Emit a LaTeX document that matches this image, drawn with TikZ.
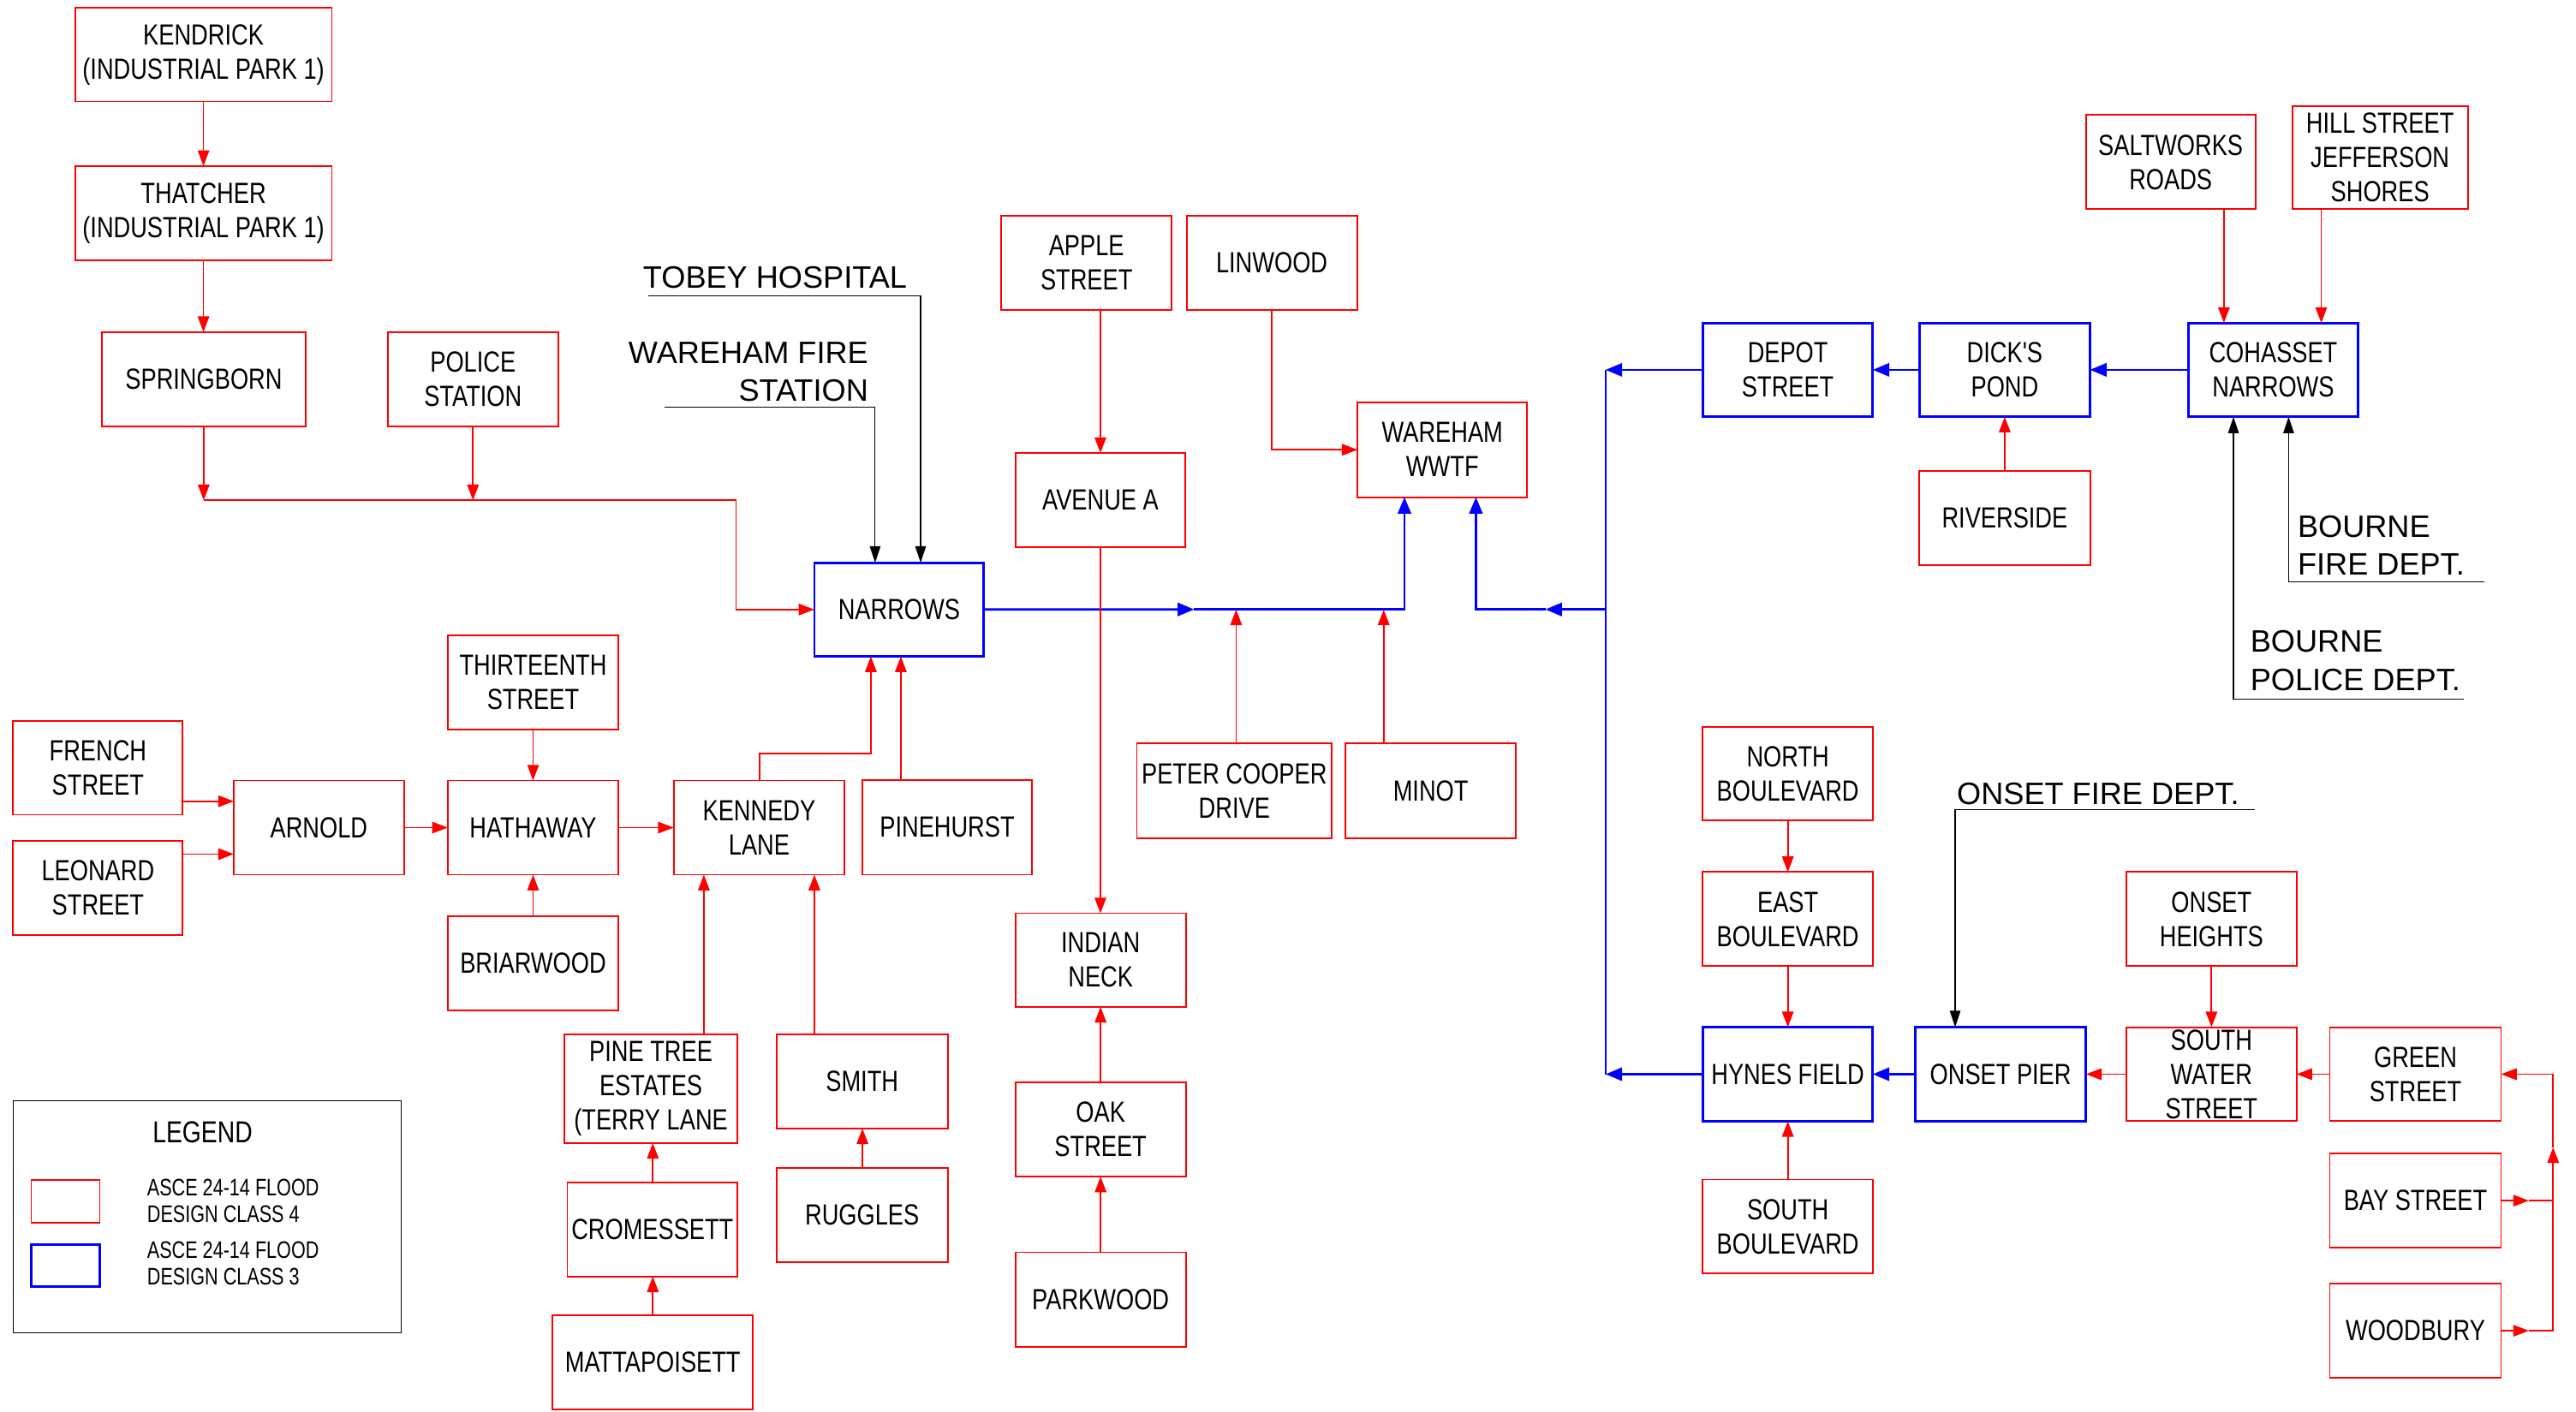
\documentclass[tikz,border=0pt]{standalone}
\usepackage{fontspec}
\setmainfont{Liberation Sans}
\newfontfamily\nf[FakeStretch=0.8,Ligatures=TeXOff]{Liberation Sans}
\newfontfamily\nnf[FakeStretch=0.775,Ligatures=TeXOff]{Liberation Sans}
\usetikzlibrary{arrows.meta}
\definecolor{rd}{RGB}{255,0,0}
\definecolor{bl}{RGB}{0,0,255}
\newcommand\mls[1]{\vbox{\let\\\cr\halign{\hfil##\hfil\cr#1\crcr}}}
\newcommand\mll[1]{\vbox{\let\\\cr\halign{##\hfil\cr#1\crcr}}}
\newcommand\mlr[1]{\vbox{\let\\\cr\halign{\hfil##\cr#1\crcr}}}
\tikzset{
 boxbase/.style={inner sep=0pt, outer sep=0pt, text=black, font=\nf\fontsize{17.7}{20.8}\selectfont},
 rbox/.style={boxbase, draw=rd, line width=1pt},
 bbox/.style={boxbase, draw=bl, line width=1.5pt},
 rseg/.style={draw=rd, line width=0.9pt},
 rarr/.style={rseg, -{Triangle[length=9.5pt,width=7pt]}},
 bseg/.style={draw=bl, line width=1.4pt},
 barr/.style={bseg, -{Triangle[length=10pt,width=8pt]}},
 kseg/.style={draw=black, line width=0.6pt},
 karr/.style={kseg, -{Triangle[length=10pt,width=6.5pt]}},
 lbl/.style={inner sep=0pt, outer sep=0pt, text=black, font=\fontsize{18.8}{23.3}\selectfont},
 legtxt/.style={inner sep=0pt, outer sep=0pt, text=black, font=\nnf\fontsize{14.5}{16.3}\selectfont},
}
\newcommand\mybox[7]{%
 \pgfmathsetmacro\bxcx{(#3+#5)/2}%
 \pgfmathsetmacro\bxcy{(#4+#6)/2}%
 \pgfmathsetmacro\bxw{#5-#3}%
 \pgfmathsetmacro\bxh{#6-#4}%
 \node[#1, minimum width=\bxw pt, minimum height=\bxh pt] (#2) at (\bxcx,\bxcy) {#7};}
\begin{document}
\begin{tikzpicture}[x=1pt,y=-1pt]
\useasboundingbox (0,0) rectangle (1564.2,857);
% ---------- boxes ----------
\mybox{rbox}{KEN}{45.6}{4.8}{201.5}{61.6}{\mls{KENDRICK\\(INDUSTRIAL PARK 1)}}
\mybox{rbox}{THA}{45.6}{100.8}{201.5}{157.9}{\mls{THATCHER\\(INDUSTRIAL PARK 1)}}
\mybox{rbox}{SPR}{61.7}{201.6}{185.8}{259}{SPRINGBORN}
\mybox{rbox}{POL}{235.4}{201.6}{339}{259}{\mls{POLICE\\STATION}}
\mybox{bbox}{NAR}{494.5}{341.7}{597.4}{398.6}{NARROWS}
\mybox{rbox}{THI}{271.9}{386}{375.5}{443.2}{\mls{THIRTEENTH\\STREET}}
\mybox{rbox}{FRE}{8}{437.9}{111}{494.8}{\mls{FRENCH\\STREET}}
\mybox{rbox}{LEO}{8}{510.5}{111}{567.7}{\mls{LEONARD\\STREET}}
\mybox{rbox}{ARN}{142}{474}{245.3}{531.2}{ARNOLD}
\mybox{rbox}{HAT}{271.9}{474}{375.5}{531.2}{HATHAWAY}
\mybox{rbox}{KNL}{409.1}{474}{512.8}{531.2}{\mls{KENNEDY\\LANE}}
\mybox{rbox}{PIN}{523.7}{473.6}{626.6}{531.2}{PINEHURST}
\mybox{rbox}{BRI}{271.9}{556.4}{375.5}{613.6}{BRIARWOOD}
\mybox{rbox}{PTE}{342.7}{628}{447.8}{694.1}{\mls{PINE TREE\\ESTATES\\(TERRY LANE}}
\mybox{rbox}{SMI}{471.5}{628}{575.5}{685.3}{SMITH}
\mybox{rbox}{RUG}{471.5}{709.2}{575.5}{766.4}{RUGGLES}
\mybox{rbox}{CRO}{344.5}{718}{447.8}{775.2}{CROMESSETT}
\mybox{rbox}{MAT}{335.4}{798.8}{457.3}{856}{MATTAPOISETT}
\mybox{rbox}{APP}{608}{130.8}{711.5}{188.4}{\mls{APPLE\\STREET}}
\mybox{rbox}{LIN}{720.5}{130.8}{824}{188.4}{LINWOOD}
\mybox{rbox}{AVE}{616.6}{275.1}{719.8}{332.2}{AVENUE A}
\mybox{rbox}{WWT}{824.3}{244.4}{927.4}{301.9}{\mls{WAREHAM\\WWTF}}
\mybox{rbox}{PCD}{690.3}{451.6}{808.7}{509.2}{\mls{PETER COOPER\\DRIVE}}
\mybox{rbox}{MIN}{817}{451.6}{920.5}{509.2}{MINOT}
\mybox{rbox}{IND}{616.6}{554.6}{720}{611.4}{\mls{INDIAN\\NECK}}
\mybox{rbox}{OAK}{616.6}{657.3}{720}{714.6}{\mls{OAK\\STREET}}
\mybox{rbox}{PAR}{616.6}{760.5}{720}{817.9}{PARKWOOD}
\mybox{bbox}{DEP}{1034}{196.1}{1137.2}{253.1}{\mls{DEPOT\\STREET}}
\mybox{bbox}{DIC}{1165.5}{196.1}{1269.1}{253.1}{\mls{DICK'S\\POND}}
\mybox{bbox}{COH}{1328.7}{196.1}{1432}{253.1}{\mls{COHASSET\\NARROWS}}
\mybox{rbox}{SAL}{1266.6}{69.8}{1369.5}{127.1}{\mls{SALTWORKS\\ROADS}}
\mybox{rbox}{HIL}{1391.9}{64.5}{1498.5}{127.1}{\mls{HILL STREET\\JEFFERSON\\SHORES}}
\mybox{rbox}{RIV}{1165.5}{286}{1269.1}{343.3}{RIVERSIDE}
\mybox{rbox}{NOB}{1034}{441.3}{1137.2}{498.4}{\mls{NORTH\\BOULEVARD}}
\mybox{rbox}{EAB}{1034}{529.6}{1137.2}{586.7}{\mls{EAST\\BOULEVARD}}
\mybox{bbox}{HYN}{1034}{623.8}{1137.2}{680.9}{HYNES FIELD}
\mybox{bbox}{ONP}{1163}{623.8}{1266.6}{680.9}{ONSET PIER}
\mybox{rbox}{SOB}{1034}{716.3}{1137.2}{773.4}{\mls{SOUTH\\BOULEVARD}}
\mybox{rbox}{ONH}{1291.2}{529.6}{1394.5}{586.7}{\mls{ONSET\\HEIGHTS}}
\mybox{rbox}{SWS}{1291.2}{623.8}{1394.5}{680.9}{\mls{SOUTH\\WATER\\STREET}}
\mybox{rbox}{GRE}{1414.7}{623.8}{1518.7}{680.9}{\mls{GREEN\\STREET}}
\mybox{rbox}{BAY}{1414.7}{700.6}{1518.7}{757.7}{BAY STREET}
\mybox{rbox}{WOO}{1414.7}{779.6}{1518.7}{836.7}{WOODBURY}
% ---------- legend ----------
\mybox{boxbase, draw=black, line width=0.6pt}{LEG}{8}{668.3}{243.8}{809.2}{}
\node[inner sep=0pt, anchor=base, font=\nf\fontsize{18.4}{22}\selectfont] (LEGT) at (123,694) {LEGEND};
\mybox{rbox}{LGR}{19}{716.7}{60.6}{742.5}{}
\mybox{bbox}{LGB}{19}{755.7}{60.6}{781.5}{}
\node[legtxt, anchor=north west] (LGRT) at (89.4,716.1) {\mll{ASCE 24-14 FLOOD\\DESIGN CLASS 4}};
\node[legtxt, anchor=north west] (LGBT) at (89.4,753.8) {\mll{ASCE 24-14 FLOOD\\DESIGN CLASS 3}};
% ---------- labels ----------
\node[lbl, anchor=base west] (tobey) at (390.5,175) {TOBEY HOSPITAL};
\node[lbl, anchor=north east] (wfire) at (527.2,207.6) {\mlr{WAREHAM FIRE\\STATION}};
\node[lbl, anchor=north west] (bfire) at (1395.2,313) {\mll{BOURNE\\FIRE DEPT.}};
\node[lbl, anchor=north west] (bpol) at (1366.5,383.1) {\mll{BOURNE\\POLICE DEPT.}};
\node[lbl, anchor=base west] (ofire) at (1188.3,488.6) {ONSET FIRE DEPT.};
% ---------- coordinates ----------
\coordinate (jA) at (123.7,303.8);
\coordinate (jB) at (287.2,303.8);
\coordinate (jC) at (447,303.8);
\coordinate (tobL) at (393.4,179.6);
\coordinate (tobR) at (559,179.6);
\coordinate (wfL) at (403.3,247.3);
\coordinate (wfR) at (531.4,247.3);
\coordinate (bfR) at (1508.4,353.4);
\coordinate (bfL) at (1389.7,353.4);
\coordinate (bpR) at (1495.9,424.5);
\coordinate (bpL) at (1356.2,424.5);
\coordinate (ofR) at (1369.1,491.6);
\coordinate (ofL) at (1187.2,491.6);
\coordinate (vT) at (975,224.6);
\coordinate (vM) at (975,370.1);
\coordinate (vB) at (975,652.35);
\coordinate (bmid) at (725.1,370.1);
\coordinate (bmid2) at (938.4,370.1);
\coordinate (kjog) at (461.3,457.7);
\coordinate (kjog2) at (528.8,457.7);
\coordinate (wmid) at (1535.6,808.15);
\coordinate (ymid) at (1535.6,729.15);
\coordinate (vrA) at (1550.3,696.7);
% ---------- blue connectors ----------
\draw[barr] (NAR.east) -- (bmid);
\draw[barr] (bmid) -| (852.8,0 |- WWT.south);
\draw[bseg] (vT) -- (vB);
\draw[barr] (DEP.west) -- (vT);
\draw[barr] (HYN.west) -- (vB);
\draw[barr] (vM) -- (bmid2);
\draw[barr] (bmid2) -| (896.2,0 |- WWT.south);
\draw[barr] (DIC.west) -- (DEP.east);
\draw[barr] (COH.west) -- (DIC.east);
\draw[barr] (ONP.west) -- (HYN.east);
% ---------- red connectors ----------
\draw[rarr] (KEN.south) -- (THA.north);
\draw[rarr] (THA.south) -- (THA.south |- SPR.north);
\draw[rarr] (jA |- SPR.south) -- (jA);
\draw[rarr] (POL.south) -- (jB);
\draw[rarr] (jA) -- (jC) |- (NAR.west);
\draw[rarr] (THI.south) -- (HAT.north);
\draw[rarr] (FRE.east |- 0,486.6) -- (ARN.west |- 0,486.6);
\draw[rarr] (LEO.east |- 0,518.7) -- (ARN.west |- 0,518.7);
\draw[rarr] (ARN.east) -- (HAT.west);
\draw[rarr] (HAT.east) -- (KNL.west);
\draw[rarr] (BRI.north) -- (HAT.south);
\draw[rarr] (kjog |- KNL.north) -- (kjog) -- (kjog2) -- (kjog2 |- NAR.south);
\draw[rarr] (547,0 |- PIN.north) -- (547,0 |- NAR.south);
\draw[rarr] (427.4,0 |- PTE.north) -- (427.4,0 |- KNL.south);
\draw[rarr] (494.5,0 |- SMI.north) -- (494.5,0 |- KNL.south);
\draw[rarr] (396.4,0 |- CRO.north) -- (396.4,0 |- PTE.south);
\draw[rarr] (396.4,0 |- MAT.north) -- (396.4,0 |- CRO.south);
\draw[rarr] (523.7,0 |- RUG.north) -- (523.7,0 |- SMI.south);
\draw[rarr] (AVE.north |- APP.south) -- (AVE.north);
\draw[rarr] (AVE.south) -- (AVE.south |- IND.north);
\draw[rarr] (LIN.south) |- (WWT.west);
\draw[rarr] (750.6,0 |- PCD.north) -- (750.6,0 |- NAR.east);
\draw[rarr] (840.2,0 |- MIN.north) -- (840.2,0 |- NAR.east);
\draw[rarr] (OAK.north) -- (IND.south);
\draw[rarr] (PAR.north) -- (OAK.south);
\draw[rarr] (1350.4,0 |- SAL.south) -- (1350.4,0 |- COH.north);
\draw[rarr] (1409.5,0 |- HIL.south) -- (1409.5,0 |- COH.north);
\draw[rarr] (DIC.south |- RIV.north) -- (DIC.south);
\draw[rarr] (NOB.south) -- (EAB.north);
\draw[rarr] (EAB.south) -- (HYN.north);
\draw[rarr] (SOB.north) -- (HYN.south);
\draw[rarr] (SWS.west) -- (ONP.east);
\draw[rarr] (ONH.south) -- (SWS.north);
\draw[rarr] (GRE.west) -- (SWS.east);
\draw[rarr] (WOO.east) -- (wmid);
\draw[rarr] (wmid) -| (vrA);
\draw[rarr] (vrA) |- (GRE.east);
\draw[rarr] (BAY.east) -- (ymid);
\draw[rseg] (ymid) -- (vrA |- ymid);
% ---------- black connectors ----------
\draw[karr] (tobL) -- (tobR) -- (tobR |- NAR.north);
\draw[karr] (wfL) -- (wfR) -- (wfR |- NAR.north);
\draw[karr] (bfR) -- (bfL) -- (bfL |- COH.south);
\draw[karr] (bpR) -- (bpL) -- (bpL |- COH.south);
\draw[karr] (ofR) -- (ofL) -- (ofL |- ONP.north);
\end{tikzpicture}
\end{document}
